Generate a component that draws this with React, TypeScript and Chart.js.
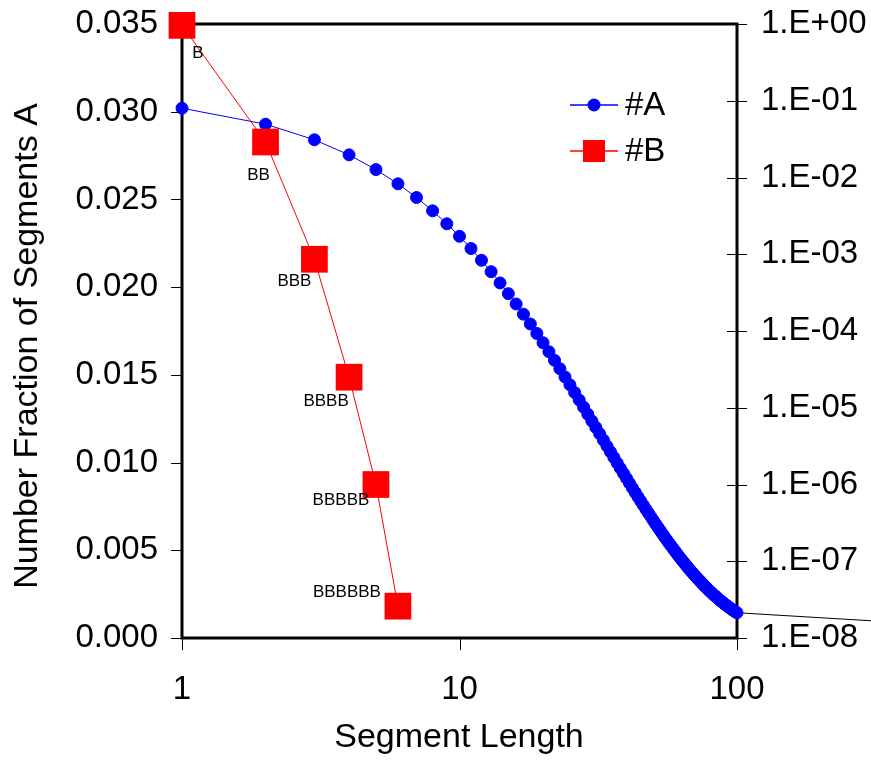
import React, { useEffect, useRef } from 'react';
import { Chart, registerables } from 'chart.js';

Chart.register(...registerables);

// ---------- data ----------
const segmentLengthsA = [
  1, 2, 3, 4, 5, 6, 7, 8, 9, 10, 11, 12, 13, 14, 15, 16, 17, 18, 19, 20,
  21, 22, 23, 24, 25, 26, 27, 28, 29, 30, 31, 32, 33, 34, 35, 36, 37, 38, 39, 40,
  41, 42, 43, 44, 45, 46, 47, 48, 49, 50, 51, 52, 53, 54, 55, 56, 57, 58, 59, 60,
  61, 62, 63, 64, 65, 66, 67, 68, 69, 70, 71, 72, 73, 74, 75, 76, 77, 78, 79, 80,
  81, 82, 83, 84, 85, 86, 87, 88, 89, 90, 91, 92, 93, 94, 95, 96, 97, 98, 99, 100,
];
const fractionA = [
  0.03020, 0.02929, 0.02840, 0.02754, 0.02670, 0.02589, 0.02511, 0.02435, 0.02361, 0.02290,
  0.02220, 0.02153, 0.02088, 0.02024, 0.01963, 0.01904, 0.01846, 0.01790, 0.01736, 0.01683,
  0.01632, 0.01583, 0.01535, 0.01488, 0.01443, 0.01399, 0.01357, 0.01316, 0.01276, 0.01237,
  0.01200, 0.01164, 0.01128, 0.01094, 0.01061, 0.01029, 0.00998, 0.00967, 0.00938, 0.00910,
  0.00882, 0.00855, 0.00829, 0.00804, 0.00780, 0.00756, 0.00733, 0.00711, 0.00690, 0.00669,
  0.00648, 0.00629, 0.00610, 0.00591, 0.00573, 0.00556, 0.00539, 0.00523, 0.00507, 0.00492,
  0.00477, 0.00462, 0.00448, 0.00435, 0.00422, 0.00409, 0.00396, 0.00384, 0.00373, 0.00361,
  0.00350, 0.00340, 0.00330, 0.00320, 0.00310, 0.00300, 0.00291, 0.00283, 0.00274, 0.00266,
  0.00258, 0.00250, 0.00242, 0.00235, 0.00228, 0.00221, 0.00214, 0.00208, 0.00201, 0.00195,
  0.00189, 0.00184, 0.00178, 0.00173, 0.00167, 0.00162, 0.00157, 0.00153, 0.00148, 0.00144,
];

const segmentLengthsB = [1, 2, 3, 4, 5, 6];
const fractionB = [0.96, 2.9e-2, 8.6e-4, 2.5e-5, 1.0e-6, 2.6e-8];
const pointLabelsB = ['B', 'BB', 'BBB', 'BBBB', 'BBBBB', 'BBBBBB'];

const seriesNames = ['#A', '#B'];

const xTickValues = [1, 10, 100];
const xTickLabels = ['1', '10', '100'];
const leftTickValues = [0, 0.005, 0.01, 0.015, 0.02, 0.025, 0.03, 0.035];
const leftTickLabels = ['0.000', '0.005', '0.010', '0.015', '0.020', '0.025', '0.030', '0.035'];
const rightTickValues = [1, 1e-1, 1e-2, 1e-3, 1e-4, 1e-5, 1e-6, 1e-7, 1e-8];
const rightTickLabels = ['1.E+00', '1.E-01', '1.E-02', '1.E-03', '1.E-04', '1.E-05', '1.E-06', '1.E-07', '1.E-08'];

const xTitle = 'Segment Length';
const yTitle = 'Number Fraction of Segments A';

// ---------- style ----------
const FONT = '"Liberation Sans", Arial, sans-serif';
const BLUE = '#0000FF';
const RED = '#FF0000';
// label offsets (px) relative to each B marker centre
const labelOffsetsB = [
  [16, 28], [-7, 33], [-20, 22], [-23, 24], [-35, 16], [-51, -14],
];

const zeroPad = (s: any) => {
  s.paddingTop = 0;
  s.paddingBottom = 0;
  s.paddingLeft = 0;
  s.paddingRight = 0;
};

const decorPlugin = {
  id: 'decor',
  beforeDatasetsDraw(chart: any) {
    const { ctx, chartArea: a, scales } = chart;
    ctx.save();
    ctx.strokeStyle = '#000';
    ctx.lineWidth = 1;
    ctx.beginPath();
    scales.yL.ticks.forEach((t: any) => {
      const y = Math.round(scales.yL.getPixelForValue(t.value)) + 0.5;
      ctx.moveTo(a.left - 11, y);
      ctx.lineTo(a.left, y);
    });
    scales.x.ticks.forEach((t: any) => {
      const x = Math.round(scales.x.getPixelForValue(t.value)) + 0.5;
      ctx.moveTo(x, a.bottom);
      ctx.lineTo(x, a.bottom + 12);
    });
    scales.yR.ticks.forEach((t: any) => {
      const y = Math.round(scales.yR.getPixelForValue(t.value)) + 0.5;
      ctx.moveTo(a.right - 10, y);
      ctx.lineTo(a.right + 10, y);
    });
    ctx.stroke();

    // thin leader line from last A point to the right edge
    const meta = chart.getDatasetMeta(0);
    const last = meta.data[meta.data.length - 1];
    if (last) {
      ctx.beginPath();
      ctx.moveTo(last.x, last.y);
      ctx.lineTo(chart.width, last.y + 8);
      ctx.stroke();
    }

    ctx.lineWidth = 3;
    ctx.strokeRect(a.left, a.top, a.right - a.left, a.bottom - a.top);
    ctx.restore();
  },
  afterDatasetsDraw(chart: any) {
    const { ctx } = chart;
    ctx.save();
    // point labels for B
    const metaB = chart.getDatasetMeta(1);
    ctx.fillStyle = '#000';
    ctx.font = `17px ${FONT}`;
    ctx.textAlign = 'center';
    ctx.textBaseline = 'middle';
    metaB.data.forEach((el: any, i: number) => {
      const [dx, dy] = labelOffsetsB[i];
      ctx.fillText(pointLabelsB[i], el.x + dx, el.y + dy);
    });

    // legend
    const ds = chart.data.datasets;
    const lx1 = 570, lx2 = 618, mx = 594;
    const rows = [105, 151];
    rows.forEach((ly, i) => {
      const d = ds[i];
      ctx.strokeStyle = d.borderColor;
      ctx.lineWidth = 1.5;
      ctx.beginPath();
      ctx.moveTo(lx1, ly);
      ctx.lineTo(lx2, ly);
      ctx.stroke();
      ctx.fillStyle = d.pointBackgroundColor;
      if (i === 0) {
        ctx.beginPath();
        ctx.arc(mx, ly, 6.5, 0, Math.PI * 2);
        ctx.fill();
      } else {
        ctx.fillRect(mx - 11, ly - 11, 22, 22);
      }
      ctx.fillStyle = '#000';
      ctx.font = `33px ${FONT}`;
      ctx.textAlign = 'left';
      ctx.textBaseline = 'middle';
      ctx.fillText(d.label, 625, ly + 1);
    });

    // axis titles
    ctx.fillStyle = '#000';
    ctx.font = `34px ${FONT}`;
    ctx.textAlign = 'center';
    ctx.textBaseline = 'middle';
    ctx.fillText(xTitle, 459, 738);
    ctx.translate(28, 346);
    ctx.rotate(-Math.PI / 2);
    ctx.fillText(yTitle, 0, 0);
    ctx.restore();
  },
};

export default function App() {
  const canvasRef = useRef<HTMLCanvasElement | null>(null);

  useEffect(() => {
    const canvas = canvasRef.current;
    if (!canvas) return;
    const chart = new Chart(canvas, {
      type: 'line',
      data: {
        datasets: [
          {
            label: seriesNames[0],
            data: segmentLengthsA.map((x, i) => ({ x, y: fractionA[i] })),
            yAxisID: 'yL',
            borderColor: BLUE,
            backgroundColor: BLUE,
            pointBackgroundColor: BLUE,
            pointBorderColor: BLUE,
            borderWidth: 1,
            pointRadius: 6,
            pointBorderWidth: 1,
            pointStyle: 'circle',
            clip: false,
            order: 1,
          },
          {
            label: seriesNames[1],
            data: segmentLengthsB.map((x, i) => ({ x, y: fractionB[i] })),
            yAxisID: 'yR',
            borderColor: RED,
            backgroundColor: RED,
            pointBackgroundColor: RED,
            pointBorderColor: RED,
            borderWidth: 1,
            pointRadius: 18.9,
            pointBorderWidth: 0,
            pointStyle: 'rect',
            clip: false,
            order: 0,
          },
        ],
      },
      options: {
        animation: false,
        responsive: false,
        devicePixelRatio: 1,
        layout: { padding: { top: 24, left: 0, right: 0, bottom: 0 } },
        plugins: {
          legend: { display: false },
          tooltip: { enabled: false },
          title: { display: false },
        },
        scales: {
          x: {
            type: 'logarithmic',
            position: 'bottom',
            min: 1,
            max: 100,
            grid: { display: false, drawTicks: false },
            border: { display: false },
            afterBuildTicks: (s: any) => {
              s.ticks = xTickValues.map((v) => ({ value: v }));
            },
            afterFit: (s: any) => {
              s.height = 122;
              zeroPad(s);
            },
            ticks: {
              autoSkip: false,
              maxRotation: 0,
              padding: 32,
              color: '#000',
              font: { family: FONT, size: 33 },
              callback: (_v: any, i: number) => xTickLabels[i],
            },
          },
          yL: {
            type: 'linear',
            position: 'left',
            min: 0,
            max: 0.035,
            grid: { display: false, drawTicks: false },
            border: { display: false },
            afterBuildTicks: (s: any) => {
              s.ticks = leftTickValues.map((v) => ({ value: v }));
            },
            afterFit: (s: any) => {
              s.width = 182;
              zeroPad(s);
            },
            ticks: {
              autoSkip: false,
              padding: 24,
              color: '#000',
              font: { family: FONT, size: 33 },
              callback: (_v: any, i: number) => leftTickLabels[i],
            },
          },
          yR: {
            type: 'logarithmic',
            position: 'right',
            min: 1e-8,
            max: 1,
            grid: { display: false, drawTicks: false },
            border: { display: false },
            afterBuildTicks: (s: any) => {
              s.ticks = rightTickValues.map((v) => ({ value: v }));
            },
            afterFit: (s: any) => {
              s.width = 134;
              zeroPad(s);
            },
            ticks: {
              autoSkip: false,
              padding: 24,
              color: '#000',
              font: { family: FONT, size: 33 },
              callback: (_v: any, i: number) => rightTickLabels[i],
            },
          },
        },
      },
      plugins: [decorPlugin],
    } as any);
    return () => chart.destroy();
  }, []);

  return (
    <div style={{ position: 'absolute', left: 0, top: 0, width: 871, height: 760, background: '#fff' }}>
      <canvas ref={canvasRef} width={871} height={760} style={{ display: 'block', width: 871, height: 760 }} />
    </div>
  );
}
